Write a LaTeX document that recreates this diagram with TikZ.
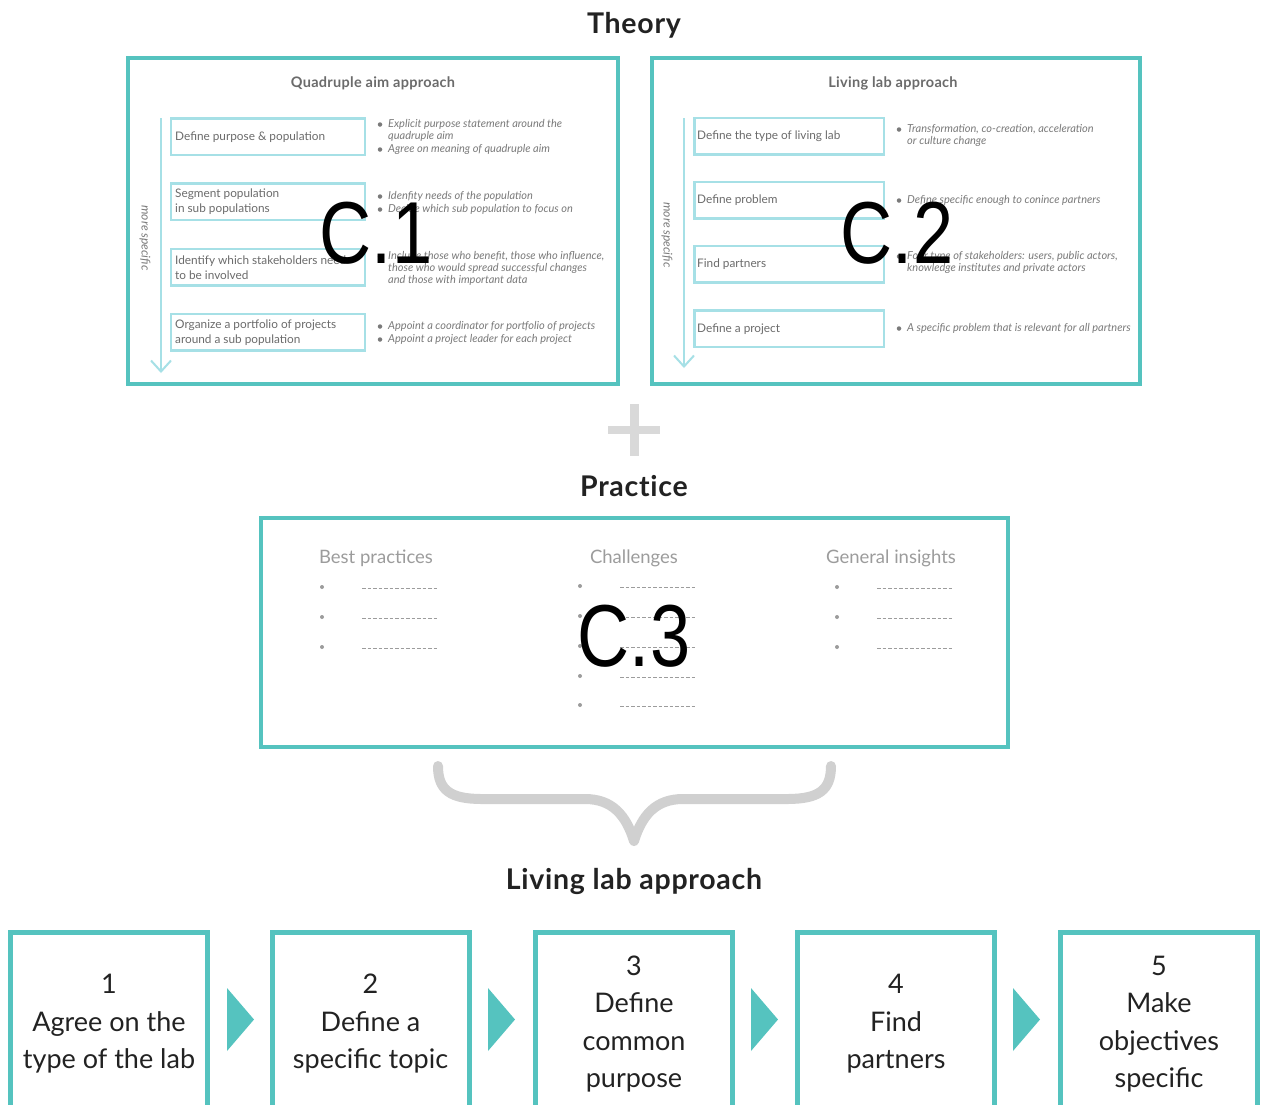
\documentclass[tikz,border=0pt]{standalone}
\usepackage{fontspec}
\setmainfont{Lato}
\newfontfamily\markfont{Liberation Sans}
\usetikzlibrary{arrows.meta}

\definecolor{frameteal}{HTML}{55C3BF}
\definecolor{stepcyan}{HTML}{A6E0E6}
\definecolor{steptext}{HTML}{6B6B6B}
\definecolor{notegray}{HTML}{7A7A7A}
\definecolor{headgray}{HTML}{9C9C9C}
\definecolor{plusgray}{HTML}{D9D9D9}
\definecolor{bracegray}{HTML}{D0D0D0}
\definecolor{inkdark}{HTML}{222222}

\begin{document}
\begin{tikzpicture}[x=1pt,y=-1pt,
  heading/.style={font=\fontsize{28.5}{31}\selectfont\bfseries\addfontfeature{LetterSpace=2.5,Ligatures={NoCommon,NoRare,NoDiscretionary}}, text=inkdark},
  panel/.style={draw=frameteal, line width=4pt, fill=white},
  paneltitle/.style={font=\fontsize{14.5}{17}\selectfont\bfseries\addfontfeature{LetterSpace=2}, text=steptext},
  stepbox/.style={draw=stepcyan, line width=2.5pt, minimum width=194pt, minimum height=36.5pt},
  steplabel/.style={font=\fontsize{11.8}{14.8}\selectfont, text=steptext, align=left, anchor=west, inner sep=0pt},
  note/.style={font=\fontsize{11}{12}\selectfont\itshape, text=notegray, align=left, anchor=north west, inner sep=0pt},
  dot/.style={circle, fill=notegray, inner sep=0pt, minimum size=4.5pt},
  sidenote/.style={font=\fontsize{12}{14}\selectfont\itshape, text=notegray, rotate=-90},
  gauge/.style={draw=stepcyan, line width=2pt, -{Straight Barb[length=11pt,width=20pt,line width=2pt]}},
  bigmark/.style={font=\markfont\fontsize{88}{90}\selectfont, text=black, xscale=0.82},
  colhead/.style={font=\fontsize{18.5}{20}\selectfont, text=headgray},
  tick/.style={circle, fill=headgray, inner sep=0pt, minimum size=4pt},
  blank/.style={draw=headgray, line width=0.7pt, dash pattern=on 3.5pt off 2pt},
  stage/.style={draw=frameteal, line width=5pt, minimum width=197pt, minimum height=400pt, anchor=north},
  stagetext/.style={font=\fontsize{27}{37.5}\selectfont, text=inkdark, align=center}
]
\useasboundingbox (0,0) rectangle (1261,1104);
\clip (0,0) rectangle (1261,1104);

% ---------- Theory ----------
\node[heading] (theory) at (634,25) {Theory};

% left panel: quadruple aim
\node[panel, minimum width=490pt, minimum height=326pt] (qa) at (373,221) {};
\node[paneltitle] (qatitle) at (373,83) {Quadruple aim approach};
\coordinate (qatop) at (161,118);
\coordinate (qabot) at (161,373);
\draw[gauge] (qatop) -- (qabot);
\node[sidenote] (qaside) at (145,238) {more specific};

\node[stepbox] (q1) at (268,136.5) {};
\node[stepbox] (q2) at (268,201.5) {};
\node[stepbox] (q3) at (268,267) {};
\node[stepbox] (q4) at (268,332) {};
\node[steplabel] (q1t) at (175,137) {Define purpose \& population};
\node[steplabel] (q2t) at (175,202) {Segment population\\in sub populations};
\node[steplabel] (q3t) at (175,267.5) {Identify which stakeholders need\\to be involved};
\node[steplabel] (q4t) at (175,332.5) {Organize a portfolio of projects\\around a sub population};

\node[dot] (qd1) at (380,124.5) {};
\node[note] (qn1) at (388,119) {Explicit purpose statement around the\\quadruple aim};
\node[dot] (qd2) at (380,149.5) {};
\node[note] (qn2) at (388,144) {Agree on meaning of quadruple aim};
\node[dot] (qd3) at (380,196.5) {};
\node[note] (qn3) at (388,191) {Idenfity needs of the population};
\node[dot] (qd4) at (380,209.5) {};
\node[note] (qn4) at (388,204) {Decide which sub population to focus on};
\node[dot] (qd5) at (380,256.5) {};
\node[note] (qn5) at (388,251) {Include those who benefit, those who influence,\\those who would spread successful changes\\and those with important data};
\node[dot] (qd6) at (380,326.5) {};
\node[note] (qn6) at (388,321) {Appoint a coordinator for portfolio of projects};
\node[dot] (qd7) at (380,339.5) {};
\node[note] (qn7) at (388,334) {Appoint a project leader for each project};

% right panel: living lab
\node[panel, minimum width=488pt, minimum height=326pt] (ll) at (896,221) {};
\node[paneltitle] (lltitle) at (893,83) {Living lab approach};
\coordinate (lltop) at (684,118);
\coordinate (llbot) at (684,368);
\draw[gauge] (lltop) -- (llbot);
\node[sidenote] (llside) at (667,235) {more specific};

\node[stepbox, minimum width=189.5pt] (l1) at (789,136) {};
\node[stepbox, minimum width=189.5pt] (l2) at (789,200) {};
\node[stepbox, minimum width=189.5pt] (l3) at (789,264) {};
\node[stepbox, minimum width=189.5pt] (l4) at (789,328.5) {};
\node[steplabel] (l1t) at (697,136.5) {Define the type of living lab};
\node[steplabel] (l2t) at (697,200.5) {Define problem};
\node[steplabel] (l3t) at (697,264.5) {Find partners};
\node[steplabel] (l4t) at (697,329) {Define a project};

\node[dot] (ld1) at (899,129.5) {};
\node[note] (ln1) at (907,124) {Transformation, co-creation, acceleration\\or culture change};
\node[dot] (ld2) at (899,200.5) {};
\node[note] (ln2) at (907,195) {Define specific enough to conince partners};
\node[dot] (ld3) at (899,256.5) {};
\node[note] (ln3) at (907,251) {Four type of stakeholders: users, public actors,\\knowledge institutes and private actors};
\node[dot] (ld4) at (899,328.5) {};
\node[note] (ln4) at (907,323) {A specific problem that is relevant for all partners};

\node[bigmark] (c1) at (376,233) {C.1};
\node[bigmark] (c2) at (897,233) {C.2};

% ---------- plus ----------
\fill[plusgray] (630,404) rectangle (639,456);
\fill[plusgray] (608,426) rectangle (660,434);

% ---------- Practice ----------
\node[heading] (practice) at (634,486) {Practice};
\node[panel, minimum width=747pt, minimum height=229pt] (pr) at (634.5,632.5) {};

\node[colhead] (best) at (376,558) {Best practices};
\node[colhead] (chal) at (634,558) {Challenges};
\node[colhead] (gen) at (891,558) {General insights};

\foreach \y [count=\i] in {587,617,647}{
  \node[tick] (bp\i) at (322,\y) {};
  \coordinate (bpa\i) at (362,\y+1);
  \coordinate (bpb\i) at (437,\y+1);
  \draw[blank] (bpa\i) -- (bpb\i);
  \node[tick] (gi\i) at (837,\y) {};
  \coordinate (gia\i) at (877,\y+1);
  \coordinate (gib\i) at (952,\y+1);
  \draw[blank] (gia\i) -- (gib\i);
}
\foreach \y [count=\i] in {586,616,646,676,705}{
  \node[tick] (ch\i) at (580,\y) {};
  \coordinate (cha\i) at (620,\y+1);
  \coordinate (chb\i) at (695,\y+1);
  \draw[blank] (cha\i) -- (chb\i);
}
\node[bigmark] (c3) at (634,636) {C.3};

% ---------- brace ----------
\coordinate (brl) at (438,766);
\coordinate (brtip) at (634,841);
\coordinate (brr) at (831,766);
\draw[bracegray, line width=10pt, line cap=round, line join=round]
  (brl) .. controls (438,790) and (450,799) .. (482,799) -- (585,799)
  .. controls (612,799) and (626,815) .. (brtip)
  .. controls (642,815) and (656,799) .. (683,799) -- (787,799)
  .. controls (819,799) and (831,790) .. (brr);

\node[heading] (llhead) at (634,881) {Living lab approach};

% ---------- stages ----------
\node[stage] (s1) at (109,929.5) {};
\node[stage] (s2) at (370.5,929.5) {};
\node[stage] (s3) at (634,929.5) {};
\node[stage] (s4) at (896,929.5) {};
\node[stage] (s5) at (1159,929.5) {};

\node[stagetext] (s1t) at (109,1024) {1\\Agree on the\\type of the lab};
\node[stagetext] (s2t) at (370.5,1024) {2\\Define a\\specific topic};
\node[stagetext] (s3t) at (634,1024) {3\\Define\\common\\purpose};
\node[stagetext] (s4t) at (896,1024) {4\\Find\\partners};
\node[stagetext] (s5t) at (1159,1024) {5\\Make\\objectives\\specific};

\foreach \x/\n in {227/1,488/2,751/3,1013/4}{
  \fill[frameteal] (\x,988) -- (\x+27,1019.5) -- (\x,1051) -- cycle;
}
\end{tikzpicture}
\end{document}
